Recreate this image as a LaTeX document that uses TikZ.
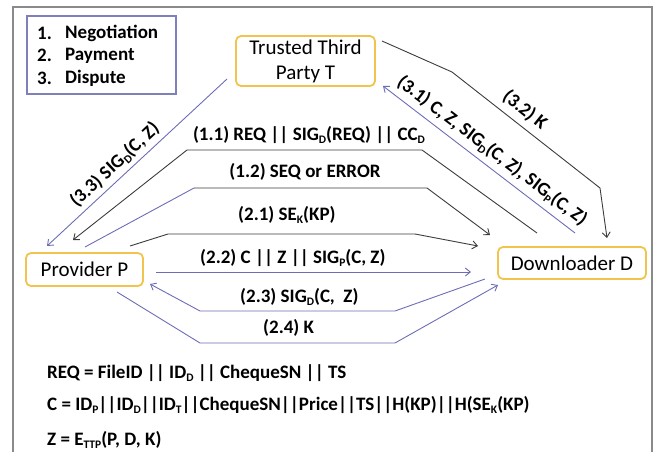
\documentclass[tikz,border=0pt]{standalone}
\usepackage{fontspec}
\setmainfont{Carlito}
\usetikzlibrary{arrows.meta}
\definecolor{lblue}{HTML}{6C6DB6}
\definecolor{ldark}{HTML}{3C3C3C}
\definecolor{gold}{HTML}{F2C44E}
\definecolor{framegray}{HTML}{8A8A8A}
\definecolor{legblue}{HTML}{7F80BA}
\newcommand\sbs[1]{\raisebox{-0.4ex}{\fontsize{11.5}{11.5}\selectfont #1}}
\begin{document}
\begin{tikzpicture}[x=1pt,y=-1pt,
  party/.style={draw=gold, line width=1.8pt, rounded corners=5pt, fill=white,
    font=\fontsize{21}{25}\selectfont, inner sep=0pt, align=center},
  lab/.style={font=\bfseries\fontsize{19}{22}\selectfont, inner sep=0pt},
  bl/.style={draw=lblue, line width=0.9pt},
  dk/.style={draw=ldark, line width=0.9pt},
  tip/.style={-{Straight Barb[length=5pt,width=8pt]}},
]
\useasboundingbox (0,0) rectangle (659,452);
\draw[framegray, line width=1.5pt] (13,470) -- (13,7) -- (652,7) -- (652,470);

% legend
\node[draw=legblue, line width=1.2pt, minimum width=149pt, minimum height=78pt, inner sep=0pt] (legend) at (101.5,55) {};
\node[lab, anchor=west] (l1n) at (37,33) {1.};
\node[lab, anchor=west] (l1) at (65,33) {Negotiation};
\node[lab, anchor=west] (l2n) at (37,55.5) {2.};
\node[lab, anchor=west] (l2) at (65,55.5) {Payment};
\node[lab, anchor=west] (l3n) at (37,78) {3.};
\node[lab, anchor=west] (l3) at (65,78) {Dispute};

% parties
\node[party, minimum width=139pt, minimum height=50pt] (T) at (305.5,61) {Trusted Third\\Party T};
\node[party, minimum width=117pt, minimum height=33pt] (P) at (84.5,269.5) {Provider P};
\node[party, minimum width=148pt, minimum height=32pt] (D) at (572,263) {Downloader D};

% connector points
\coordinate (t33) at (227,79);  \coordinate (p33) at (47,246);
\coordinate (d11) at (537,233); \coordinate (b11a) at (422,150); \coordinate (b11b) at (187,150); \coordinate (p11) at (73,240);
\coordinate (p12) at (85,247);  \coordinate (b12a) at (194,188); \coordinate (b12b) at (427,188); \coordinate (d12) at (490,235);
\coordinate (p21) at (130,246); \coordinate (b21a) at (168,234); \coordinate (b21b) at (415,234); \coordinate (d21) at (478,246);
\coordinate (p22) at (156,272); \coordinate (d22) at (471,272);
\coordinate (d23) at (485,279); \coordinate (b23a) at (395,311); \coordinate (b23b) at (200,311); \coordinate (p23) at (150,284);
\coordinate (p24) at (117,292); \coordinate (b24a) at (200,343); \coordinate (b24b) at (395,343); \coordinate (d24) at (498,285);
\coordinate (d31) at (575,233); \coordinate (t31) at (383,86);
\coordinate (t32) at (382,41);  \coordinate (b32a) at (452,72); \coordinate (b32b) at (600,188); \coordinate (d32) at (607,238);

% connectors
\draw[bl,tip] (t33) -- (p33);
\draw[dk,tip] (d11) -- (b11a) -- (b11b) -- (p11);
\draw[bl] (p12) -- (b12a);
\draw[dk,tip] (b12a) -- (b12b) -- (d12);
\draw[dk,tip] (p21) -- (b21a) -- (b21b) -- (d21);
\draw[bl,tip] (p22) -- (d22);
\draw[bl,tip] (d23) -- (b23a) -- (b23b) -- (p23);
\draw[bl,tip] (p24) -- (b24a) -- (b24b) -- (d24);
\draw[bl,tip] (d31) -- (t31);
\draw[dk,tip] (t32) -- (b32a) -- (b32b) -- (d32);

% labels
\node[lab, rotate=43] (L33) at (115,165) {(3.3) SIG\sbs{D}(C, Z)};
\node[lab] (L11) at (309,135) {(1.1) REQ || SIG\sbs{D}(REQ) || CC\sbs{D}};
\node[lab] (L12) at (305,172) {(1.2) SEQ or ERROR};
\node[lab, anchor=west] (L21) at (238,215) {(2.1) SE\sbs{K}(KP)};
\node[lab, anchor=west] (L22) at (200,258) {(2.2) C || Z || SIG\sbs{P}(C, Z)};
\node[lab, anchor=west] (L23) at (240,297) {(2.3) SIG\sbs{D}(C,\ \ Z)};
\node[lab, anchor=west] (L24) at (263,328) {(2.4) K};
\node[lab, rotate=-37.3] (L31) at (492,151) {(3.1) C, Z, SIG\sbs{D}(C, Z), SIG\sbs{P}(C, Z)};
\node[lab, rotate=-39] (L32) at (525,110) {(3.2) K};

% definitions
\node[lab, anchor=west] (eq1) at (47,373) {REQ = FileID || ID\sbs{D} || ChequeSN || TS};
\node[lab, anchor=west] (eq2) at (47,405) {C = ID\sbs{P}||ID\sbs{D}||ID\sbs{T}||ChequeSN||Price||TS||H(KP)||H(SE\sbs{K}(KP)};
\node[lab, anchor=west] (eq3) at (47,440) {Z = E\sbs{TTP}(P, D, K)};
\end{tikzpicture}
\end{document}
